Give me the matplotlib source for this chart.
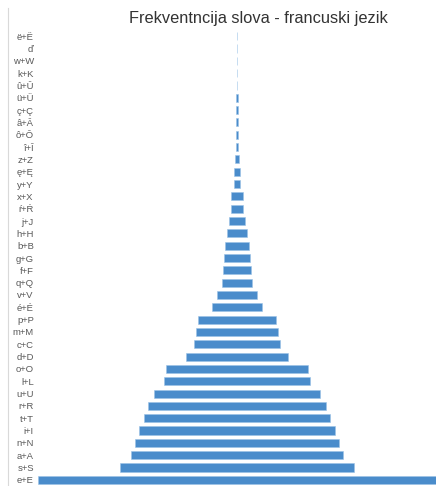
import matplotlib
matplotlib.use("Agg")
import matplotlib.pyplot as plt
from matplotlib.lines import Line2D

# letters from bottom (most frequent) to top
labels = ["e+E", "s+S", "a+A", "n+N", "i+I", "t+T", "r+R", "u+U", "l+L", "o+O",
          "d+D", "c+C", "m+M", "p+P", "é+É", "v+V", "q+Q", "f+F", "g+G", "b+B",
          "h+H", "j+J", "ŕ+Ŕ", "x+X", "y+Y", "ę+Ę", "z+Z", "î+Î", "ô+Ô", "â+Â",
          "ç+Ç", "ü+Ü", "û+Û", "k+K", "w+W", "ď", "ë+Ë"]
freq = [13.50, 7.96, 7.21, 6.94, 6.67, 6.29, 6.02, 5.65, 4.97, 4.83,
        3.47, 2.93, 2.79, 2.65, 1.70, 1.36, 1.05, 0.95, 0.88, 0.82,
        0.68, 0.54, 0.41, 0.41, 0.20, 0.17, 0.14, 0.05, 0.05, 0.035,
        0.035, 0.035, 0.018, 0.018, 0.018, 0.018, 0.018]

plt.rcParams["font.family"] = ["Liberation Sans", "DejaVu Sans"]

W, H = 436, 486
fig = plt.figure(figsize=(W / 100, H / 100), dpi=100)
ax = fig.add_axes([38 / W, 0, 1 - 38 / W, 1 - 30 / H])

pos = list(range(len(labels)))
ax.barh(pos, freq, left=[-v / 2 for v in freq], height=0.66,
        color="#4a8ccb", edgecolor="#9cc2e6", linewidth=0.4)

fmax = max(freq)
ax.set_xlim(-fmax / 2, fmax / 2)
ax.set_ylim(-0.5, len(labels) - 0.5)
ax.set_yticks(pos)
ax.set_yticklabels(labels, fontsize=6.8, color="#595959")
ax.tick_params(axis="y", length=0, pad=3)
ax.set_xticks([])
for s in ax.spines.values():
    s.set_visible(False)

fig.text(258 / W, 1 - 18 / H, "Frekventncija slova - francuski jezik",
         ha="center", va="center", fontsize=11.8, color="#333333")

# faint chart border on the left
fig.add_artist(Line2D([8 / W, 8 / W], [0, 1 - 8 / H], color="#d9d9d9", lw=0.8))

fig.savefig("out.png", dpi=100)
